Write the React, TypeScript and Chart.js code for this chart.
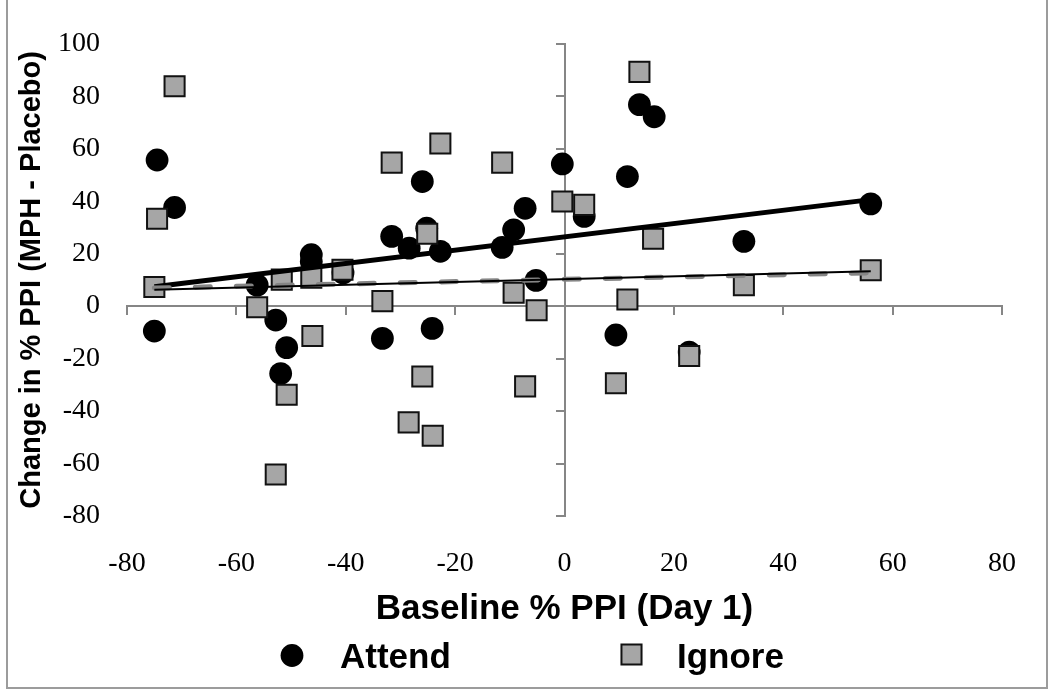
import React, { useEffect, useRef } from 'react';
import { Chart, registerables } from 'chart.js';

Chart.register(...registerables);

// ---- data ----
const attendX = [-74.5, -71.3, -75.0, -56.2, -52.8, -50.8, -51.9, -46.3, -46.3, -40.5, -33.3, -31.6, -28.4, -26.0, -25.2, -22.7, -24.2, -11.4, -9.3, -7.2, -5.2, -0.4, 3.6, 11.5, 13.7, 16.4, 32.8, 56.0, 9.4, 22.8];
const attendY = [55.7, 37.6, -9.5, 8.0, -5.3, -15.8, -25.7, 19.6, 17.0, 12.7, -12.3, 26.6, 22.1, 47.5, 29.7, 20.9, -8.5, 22.4, 29.1, 37.3, 9.8, 54.2, 34.2, 49.4, 76.8, 72.2, 24.7, 39.0, -11.0, -17.5];
const ignoreX = [-71.3, -74.5, -75.0, -31.6, -22.7, -25.1, -51.7, -46.3, -40.6, -56.2, -33.3, 13.7, -11.4, -0.4, 3.6, 16.2, -9.3, -5.1, 11.5, 32.8, 56.0, -46.1, -50.8, -52.8, -26.0, -28.5, -24.1, -7.2, 9.4, 22.8];
const ignoreY = [83.8, 33.3, 7.3, 54.7, 62.0, 27.6, 10.1, 10.8, 13.9, -0.4, 1.9, 89.3, 54.7, 39.9, 38.6, 25.7, 5.1, -1.6, 2.5, 8.0, 13.7, -11.4, -33.8, -64.2, -26.8, -44.3, -49.4, -30.6, -29.4, -19.0];

// trend lines (end points)
const trendX = [-75, 56];
const attendTrendY = [7.4, 40.6];
const ignoreTrendY = [6.9, 12.7];
const ignoreFitY = [6.2, 13.3];

const seriesLabels = ['Attend', 'Ignore'];
const xTitle = 'Baseline % PPI (Day 1)';
const yTitle = 'Change in % PPI (MPH - Placebo)';
const xRange = [-80, 80];
const yRange = [-80, 100];
const tickStep = 20;

const pts = (xs: number[], ys: number[]) => xs.map((x, i) => ({ x, y: ys[i] }));

const AXIS_GRAY = '#868686';
const SERIF = "'Liberation Serif', 'Times New Roman', serif";
const SANS = "'Liberation Sans', Arial, sans-serif";

const bottomLegend = {
  id: 'bottomLegend',
  afterDraw(chart: any, _args: any, opts: any) {
    const ctx = chart.ctx as CanvasRenderingContext2D;
    const datasets = chart.data.datasets;
    ctx.save();
    for (const item of opts.items) {
      const ds = datasets.find((d: any) => d.label === item.label);
      if (!ds) continue;
      const cx = item.markerX;
      const cy = item.markerY;
      const r = ds.pointRadius;
      ctx.beginPath();
      if (ds.pointStyle === 'rect') {
        const s = r * Math.SQRT2;
        ctx.rect(cx - s / 2, cy - s / 2, s, s);
      } else {
        ctx.arc(cx, cy, r, 0, Math.PI * 2);
      }
      ctx.fillStyle = ds.pointBackgroundColor;
      ctx.fill();
      if (ds.pointBorderWidth) {
        ctx.lineWidth = ds.pointBorderWidth;
        ctx.strokeStyle = ds.pointBorderColor;
        ctx.stroke();
      }
      ctx.fillStyle = '#000';
      ctx.font = opts.font;
      ctx.textAlign = 'left';
      ctx.textBaseline = 'middle';
      ctx.fillText(ds.label, item.textX, item.textY);
    }
    ctx.restore();
  },
};

export default function App() {
  const ref = useRef<HTMLCanvasElement | null>(null);

  useEffect(() => {
    if (!ref.current) return;
    const chart = new Chart(ref.current, {
      type: 'scatter',
      data: {
        datasets: [
          {
            type: 'line',
            label: 'Ignore fit',
            data: pts(trendX, ignoreFitY),
            borderColor: '#000',
            borderWidth: 2,
            pointRadius: 0,
            showLine: true,
            fill: false,
            order: 0,
          } as any,
          {
            type: 'line',
            label: 'Ignore trend',
            data: pts(trendX, ignoreTrendY),
            borderColor: '#858585',
            borderWidth: 5,
            borderDash: [15, 26],
            borderCapStyle: 'round',
            pointRadius: 0,
            showLine: true,
            fill: false,
            order: 1,
          } as any,
          {
            type: 'line',
            label: 'Attend trend',
            data: pts(trendX, attendTrendY),
            borderColor: '#000',
            borderWidth: 5,
            pointRadius: 0,
            showLine: true,
            fill: false,
            order: 2,
          } as any,
          {
            label: seriesLabels[1],
            data: pts(ignoreX, ignoreY),
            pointStyle: 'rect',
            pointRadius: 14.2,
            pointBackgroundColor: '#a6a6a6',
            pointBorderColor: '#111',
            pointBorderWidth: 2,
            backgroundColor: '#a6a6a6',
            borderColor: '#111',
            order: 3,
          } as any,
          {
            label: seriesLabels[0],
            data: pts(attendX, attendY),
            pointStyle: 'circle',
            pointRadius: 11.4,
            pointBackgroundColor: '#000',
            pointBorderColor: '#000',
            pointBorderWidth: 0,
            backgroundColor: '#000',
            borderColor: '#000',
            order: 4,
          } as any,
        ],
      },
      options: {
        animation: false,
        responsive: false,
        events: [],
        layout: { padding: { left: 0, right: 48, top: 42, bottom: 56 } },
        plugins: {
          legend: { display: false },
          tooltip: { enabled: false },
          bottomLegend: {
            font: `bold 35px ${SANS}`,
            items: [
              { label: seriesLabels[0], markerX: 292, markerY: 655.5, textX: 340, textY: 658 },
              { label: seriesLabels[1], markerX: 631.5, markerY: 654.5, textX: 677, textY: 658 },
            ],
          },
        } as any,
        scales: {
          x: {
            type: 'linear',
            position: 'bottom',
            min: xRange[0],
            max: xRange[1],
            afterFit: (s: any) => { s.height = 120; },
            ticks: {
              stepSize: tickStep,
              padding: 31,
              color: '#000',
              font: { family: SERIF, size: 28 },
              maxRotation: 0,
              autoSkip: false,
            },
            grid: { display: false, drawTicks: false },
            border: { display: false },
            title: {
              display: true,
              text: xTitle,
              color: '#000',
              font: { family: SANS, size: 35, weight: 'bold' },
              padding: { top: 0, bottom: 6 },
            },
          },
          y: {
            type: 'linear',
            position: 'left',
            min: yRange[0],
            max: yRange[1],
            afterFit: (s: any) => { s.width = 127; },
            ticks: {
              stepSize: tickStep,
              padding: 27,
              color: '#000',
              font: { family: SERIF, size: 28 },
              autoSkip: false,
            },
            grid: { display: false, drawTicks: false },
            border: { display: false },
            title: {
              display: true,
              text: yTitle,
              color: '#000',
              font: { family: SANS, size: 29, weight: 'bold' },
              padding: { top: 15, bottom: 0 },
            },
          },
          x0: {
            type: 'linear',
            axis: 'x',
            position: { y: 0 },
            min: xRange[0],
            max: xRange[1],
            ticks: { stepSize: tickStep, display: false },
            grid: { display: true, drawOnChartArea: false, drawTicks: true, tickLength: 8, color: AXIS_GRAY, lineWidth: 2 },
            border: { display: true, color: AXIS_GRAY, width: 2 },
          },
          y0: {
            type: 'linear',
            axis: 'y',
            position: { x: 0 },
            min: yRange[0],
            max: yRange[1],
            ticks: { stepSize: tickStep, display: false },
            grid: { display: true, drawOnChartArea: false, drawTicks: true, tickLength: 8, color: AXIS_GRAY, lineWidth: 2 },
            border: { display: true, color: AXIS_GRAY, width: 2 },
          },
        } as any,
      },
      plugins: [bottomLegend as any],
    });
    return () => chart.destroy();
  }, []);

  return (
    <div style={{ position: 'fixed', left: 0, top: 0, width: 1050, height: 692, background: '#fff', overflow: 'hidden' }}>
      <canvas ref={ref} width={1050} height={692} style={{ width: 1050, height: 692, display: 'block' }} />
      <div
        style={{
          position: 'absolute',
          left: 6,
          top: -4,
          width: 1042,
          height: 693,
          boxSizing: 'border-box',
          border: '2px solid #9c9c9c',
          pointerEvents: 'none',
        }}
      />
    </div>
  );
}
